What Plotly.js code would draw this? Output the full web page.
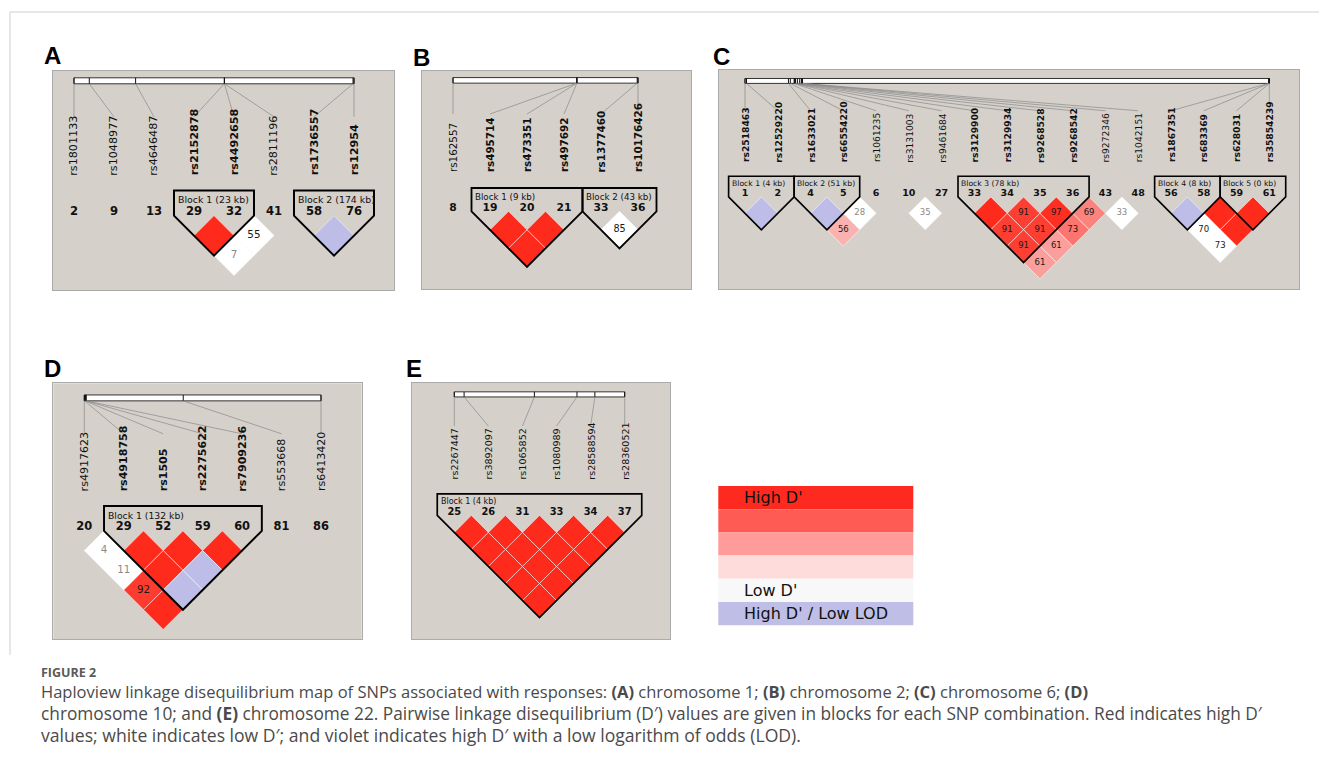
<!DOCTYPE html>
<html><head><meta charset="utf-8">
<script src="https://cdn.plot.ly/plotly-3.0.1.min.js"></script>
<style>html,body{margin:0;padding:0;background:#fff;}#chart{width:1319px;height:771px;}</style>
</head><body><div id="chart"></div>
<script>
// ---------------- DATA ----------------
// Panel A (chromosome 1)
const snpsA = ['rs1801133','rs1048977','rs4646487','rs2152878','rs4492658','rs2811196','rs1736557','rs12954'];
const markerNoA = [2,9,13,29,32,41,58,76];
const posA = [0, 2.73, 11.0, 26.84, 26.863, 26.88, 49.826, 50.0]; // Mb, relative
const blockLabelA = ['Block 1 (23 kb)','Block 2 (174 kb)'];
const blockStartA = [4,7];
const blockEndA = [5,8];
const pairIA = [4,5,4,7];
const pairJA = [5,6,6,8];
const dprimeA = [100,55,7,100];
const lowLodA = [0,1,1,1];

// Panel B (chromosome 2)
const snpsB = ['rs162557','rs495714','rs473351','rs497692','rs1377460','rs10176426'];
const markerNoB = [8,19,20,21,33,36];
const posB = [0, 6.69, 6.695, 6.699, 9.957, 10.0];
const blockLabelB = ['Block 1 (9 kb)','Block 2 (43 kb)'];
const blockStartB = [2,5];
const blockEndB = [4,6];
const pairIB = [2,3,2,5];
const pairJB = [3,4,4,6];
const dprimeB = [100,100,100,85];
const lowLodB = [0,0,0,1];

// Panel C (chromosome 6)
const snpsC = ['rs2518463','rs12529220','rs1633021','rs66554220','rs1061235','rs3131003','rs9461684','rs3129900','rs3129934','rs9268528','rs9268542','rs9272346','rs1042151','rs1867351','rs683369','rs628031','rs35854239'];
const markerNoC = [1,2,4,5,6,10,27,33,34,35,36,43,48,56,58,59,61];
const posC = [0, 20, 580, 605, 656, 662, 668, 675, 700, 730, 753, 760, 768, 6990, 6998, 7000, 7000]; // kb, relative
const blockLabelC = ['Block 1 (4 kb)','Block 2 (51 kb)','Block 3 (78 kb)','Block 4 (8 kb)','Block 5 (0 kb)'];
const blockStartC = [1,3,8,14,16];
const blockEndC = [2,4,11,15,17];
const pairIC = [1,3,4,3,6,8,9,10,11,8,9,10,8,9,8,12,14,15,16,14,15,14];
const pairJC = [2,4,5,5,7,9,10,11,12,10,11,12,11,12,12,13,15,16,17,16,17,17];
const dprimeC = [100,100,28,56,35,100,91,97,69,91,91,73,91,61,61,33,100,100,100,70,100,73];
const lowLodC = [1,1,1,0,1,0,0,0,0,0,0,0,0,0,0,1,1,0,0,1,0,1];

// Panel D (chromosome 10)
const snpsD = ['rs4917623','rs4918758','rs1505','rs2275622','rs7909236','rs553668','rs6413420'];
const markerNoD = [20,29,52,59,60,81,86];
const posD = [0, 0.03, 0.08, 0.12, 0.162, 8.36, 20];
const blockLabelD = ['Block 1 (132 kb)'];
const blockStartD = [2];
const blockEndD = [5];
const pairID = [1,2,3,4,1,2,3,1,2,1];
const pairJD = [2,3,4,5,3,4,5,4,5,5];
const dprimeD = [4,100,100,100,11,100,100,92,100,100];
const lowLodD = [1,0,0,0,1,0,1,0,1,0];

// Panel E (chromosome 22)
const snpsE = ['rs2267447','rs3892097','rs1065852','rs1080989','rs28588594','rs28360521'];
const markerNoE = [25,26,31,33,34,37];
const posE = [0, 0.23, 1.88, 2.88, 3.3, 4.0]; // kb
const blockLabelE = ['Block 1 (4 kb)'];
const blockStartE = [1];
const blockEndE = [6];
const pairIE = [1,2,3,4,5,1,2,3,4,1,2,3,1,2,1];
const pairJE = [2,3,4,5,6,3,4,5,6,4,5,6,5,6,6];
const dprimeE = [100,100,100,100,100,100,100,100,100,100,100,100,100,100,100];
const lowLodE = [0,0,0,0,0,0,0,0,0,0,0,0,0,0,0];

// Legend
const legendLabels = ["High D'", '', '', '', "Low D'", "High D' / Low LOD"];
const legendColors = ['#ff2a1f','#ff5b55','#ff9b98','#ffdcdc','#f8f8f8','#bebee6'];

// ---------------- BUILD ----------------
const W = 1319, H = 771;
const FONT = 'DejaVu Sans, Verdana, sans-serif';

const panels = [
  {lab:'A', snps:snpsA, no:markerNoA, pos:posA, bl:blockLabelA, bs:blockStartA, be:blockEndA, pi:pairIA, pj:pairJA, dp:dprimeA, low:lowLodA, boldIn:true,
   g:{L:52.7,R:394,T:70.7,B:290,X1:74,s:40,Y0:212,bar:-3.28,lineEnd:-2.38,nameBot:-0.88}, labPos:[52.5,55.5]},
  {lab:'B', snps:snpsB, no:markerNoB, pos:posB, bl:blockLabelB, bs:blockStartB, be:blockEndB, pi:pairIB, pj:pairJB, dp:dprimeB, low:lowLodB, boldIn:true,
   g:{L:422,R:691,T:70.7,B:289,X1:453,s:37,Y0:208,bar:-3.45,lineEnd:-2.54,nameBot:-0.93}, labPos:[421.5,57.5]},
  {lab:'C', snps:snpsC, no:markerNoC, pos:posC, bl:blockLabelC, bs:blockStartC, be:blockEndC, pi:pairIC, pj:pairJC, dp:dprimeC, low:lowLodC, boldIn:true,
   g:{L:719,R:1299,T:70,B:289,X1:745,s:32.77,Y0:194,bar:-3.45,lineEnd:-2.54,nameBot:-0.93}, labPos:[721.5,56.5]},
  {lab:'D', snps:snpsD, no:markerNoD, pos:posD, bl:blockLabelD, bs:blockStartD, be:blockEndD, pi:pairID, pj:pairJD, dp:dprimeD, low:lowLodD, boldIn:true,
   g:{L:53.3,R:361.7,T:383.3,B:639.3,X1:84.3,s:39.45,Y0:527.3,bar:-3.28,lineEnd:-2.37,nameBot:-0.88}, labPos:[52.8,368.3]},
  {lab:'E', snps:snpsE, no:markerNoE, pos:posE, bl:blockLabelE, bs:blockStartE, be:blockEndE, pi:pairIE, pj:pairJE, dp:dprimeE, low:lowLodE, boldIn:false,
   g:{L:411.7,R:670,T:382.7,B:639.3,X1:454.3,s:34.08,Y0:512.3,bar:-3.46,lineEnd:-2.53,nameBot:-0.93}, labPos:[414.2,368]}
];

const ROW1 = 0.59, OUTLINE_TOP = -0.54, BLOCK_LAB = -0.31, BAR_H = 0.075;

function cellColor(d, low){
  if (low) return d >= 100 ? '#bdbde8' : '#ffffff';
  let t = Math.min(1, Math.max(0, (100 - d) / 50));
  t = Math.pow(t, 1.2);
  const a = [254,42,28], b = [249,200,200];
  const c = a.map((v,i)=>Math.round(v + (b[i]-v)*t));
  return 'rgb(' + c.join(',') + ')';
}

const axisStyle = {showgrid:false, zeroline:false, showticklabels:false, ticks:'', showline:true, mirror:true,
                   linecolor:'#ababab', linewidth:1, fixedrange:true};

const layout = {width:W, height:H, margin:{l:0,r:0,t:0,b:0}, paper_bgcolor:'#ffffff', plot_bgcolor:'#d5d0ca',
                showlegend:false, shapes:[], annotations:[], hovermode:false};
const data = [];
const px = x => x / W, py = y => 1 - y / H;

panels.forEach((p,k)=>{
  const g = p.g, n = p.snps.length, s = g.s;
  const sfx = k ? String(k+1) : '';
  const xr = 'x'+sfx, yr = 'y'+sfx;
  layout['xaxis'+sfx] = Object.assign({domain:[px(g.L), px(g.R)], range:[1-(g.X1-g.L)/s, 1+(g.R-g.X1)/s], anchor:yr}, axisStyle);
  layout['yaxis'+sfx] = Object.assign({domain:[py(g.B), py(g.T)], range:[(g.B-g.Y0)/s, (g.T-g.Y0)/s], anchor:xr}, axisStyle);

  const idx = p.snps.map((_,i)=>i+1);
  const inBlock = idx.map(i => p.bs.some((b,m)=> i>=b && i<=p.be[m]));

  // marker numbers
  data.push({type:'scatter', mode:'text', xaxis:xr, yaxis:yr, x:idx, y:idx.map(()=>0),
    text:p.no.map(v=>'<b>'+v+'</b>'), textposition:'middle center',
    textfont:{family:FONT, size:0.29*s, color:'#111'}, hoverinfo:'skip', cliponaxis:false});

  // physical map bar
  const pmin = Math.min(...p.pos), pmax = Math.max(...p.pos);
  const mapX = p.pos.map(v => 1 + (v - pmin)/(pmax - pmin)*(n-1));
  layout.shapes.push({type:'rect', xref:xr, yref:yr, x0:1, x1:n, y0:g.bar-BAR_H, y1:g.bar+BAR_H,
    fillcolor:'#ffffff', line:{color:'#333', width:1}});
  mapX.forEach((mx,i)=>{
    layout.shapes.push({type:'line', xref:xr, yref:yr, x0:mx, x1:mx, y0:g.bar-BAR_H, y1:g.bar+BAR_H, line:{color:'#111', width:1}});
    layout.shapes.push({type:'line', xref:xr, yref:yr, x0:mx, x1:i+1, y0:g.bar+BAR_H, y1:g.lineEnd, line:{color:'#8a8a8a', width:0.7}});
  });

  // SNP names
  p.snps.forEach((nm,i)=>{
    layout.annotations.push({xref:xr, yref:yr, x:i+1, y:g.nameBot, text: (p.boldIn && inBlock[i]) ? '<b>'+nm+'</b>' : nm,
      textangle:-90, xanchor:'center', yanchor:'bottom', showarrow:false, borderpad:0,
      font:{family:FONT, size:0.28*s, color:'#111'}});
  });

  // LD cells
  const cx = [], cy = [], ct = [], cc = [];
  p.pi.forEach((a,m)=>{
    const b = p.pj[m];
    const x = (a+b)/2, y = ROW1 + (b-a-1)*0.5;
    layout.shapes.push({type:'path', xref:xr, yref:yr, layer:'below',
      path:`M ${x},${y-0.5} L ${x+0.5},${y} L ${x},${y+0.5} L ${x-0.5},${y} Z`,
      fillcolor:cellColor(p.dp[m], p.low[m]), line:{color:'rgba(255,255,255,0.65)', width:0.8}});
    if (p.dp[m] < 100){ cx.push(x); cy.push(y); ct.push(String(p.dp[m])); cc.push(p.dp[m] < 50 ? '#8a8a8a' : '#1a1a1a'); }
  });
  if (cx.length) data.push({type:'scatter', mode:'text', xaxis:xr, yaxis:yr, x:cx, y:cy, text:ct,
    textposition:'middle center', textfont:{family:FONT, size:0.26*s, color:cc}, hoverinfo:'skip', cliponaxis:false});

  // Block outlines
  p.bs.forEach((b,m)=>{
    const e = p.be[m], nb = e - b + 1;
    const top = ROW1 - 0.5, mid = (b+e)/2;
    layout.shapes.push({type:'path', xref:xr, yref:yr, layer:'above',
      path:`M ${b-0.5},${OUTLINE_TOP} L ${e+0.5},${OUTLINE_TOP} L ${e+0.5},${top} L ${mid},${top+nb*0.5} L ${b-0.5},${top} Z`,
      line:{color:'#000', width:Math.max(1.5, 0.05*s)}, fillcolor:'rgba(0,0,0,0)'});
    layout.annotations.push({xref:xr, yref:yr, x:b-0.5+0.07, y:BLOCK_LAB, text:p.bl[m], xanchor:'left', yanchor:'middle',
      showarrow:false, borderpad:0, font:{family:FONT, size:0.235*s, color:'#111'}});
  });

  // panel letter
  layout.annotations.push({xref:'paper', yref:'paper', x:px(p.labPos[0]), y:py(p.labPos[1]), text:'<b>'+p.lab+'</b>',
    xanchor:'center', yanchor:'middle', showarrow:false, font:{family:'Liberation Sans, Arial, sans-serif', size:24, color:'#000'}});
});

// Legend
const LG = {L:718.3, R:913.3, T:486, h:23.2, tx:741.7};
legendColors.forEach((c,i)=>{
  layout.shapes.push({type:'rect', xref:'paper', yref:'paper', x0:px(LG.L), x1:px(LG.R),
    y0:py(LG.T+(i+1)*LG.h), y1:py(LG.T+i*LG.h), fillcolor:c, line:{width:0}});
  if (legendLabels[i]) layout.annotations.push({xref:'paper', yref:'paper', x:px(LG.tx), y:py(LG.T+(i+0.5)*LG.h),
    text:legendLabels[i], xanchor:'left', yanchor:'middle', showarrow:false,
    font:{family:FONT, size:16, color:'#111'}});
});

// Figure frame (top and left rules)
layout.shapes.push({type:'line', xref:'paper', yref:'paper', x0:px(10), x1:1, y0:py(12), y1:py(12), line:{color:'#cfcfcf', width:1}});
layout.shapes.push({type:'line', xref:'paper', yref:'paper', x0:px(10), x1:px(10), y0:py(12), y1:py(655), line:{color:'#cfcfcf', width:1}});

// Caption
const CAP = 'Open Sans, Lato, sans-serif';
const capLines = [
  'Haploview linkage disequilibrium map of SNPs associated with responses: <b>(A)</b> chromosome 1; <b>(B)</b> chromosome 2; <b>(C)</b> chromosome 6; <b>(D)</b>',
  'chromosome 10; and <b>(E)</b> chromosome 22. Pairwise linkage disequilibrium (D′) values are given in blocks for each SNP combination. Red indicates high D′',
  'values; white indicates low D′; and violet indicates high D′ with a low logarithm of odds (LOD).'
];
const capSizes = [16.5, 17.3, 17.6];
layout.annotations.push({xref:'paper', yref:'paper', x:px(40), y:py(672), text:'<b>FIGURE 2</b>', xanchor:'left', yanchor:'middle',
  showarrow:false, borderpad:0, font:{family:CAP, size:12.5, color:'#5a5a5a'}});
capLines.forEach((t,i)=>{
  layout.annotations.push({xref:'paper', yref:'paper', x:px(40), y:py(691 + i*22), text:t, xanchor:'left', yanchor:'middle',
    showarrow:false, borderpad:0, font:{family:CAP, size:capSizes[i], color:'#4a4a4a'}});
});

Plotly.newPlot('chart', data, layout, {displayModeBar:false, staticPlot:true});
</script>
</body></html>
